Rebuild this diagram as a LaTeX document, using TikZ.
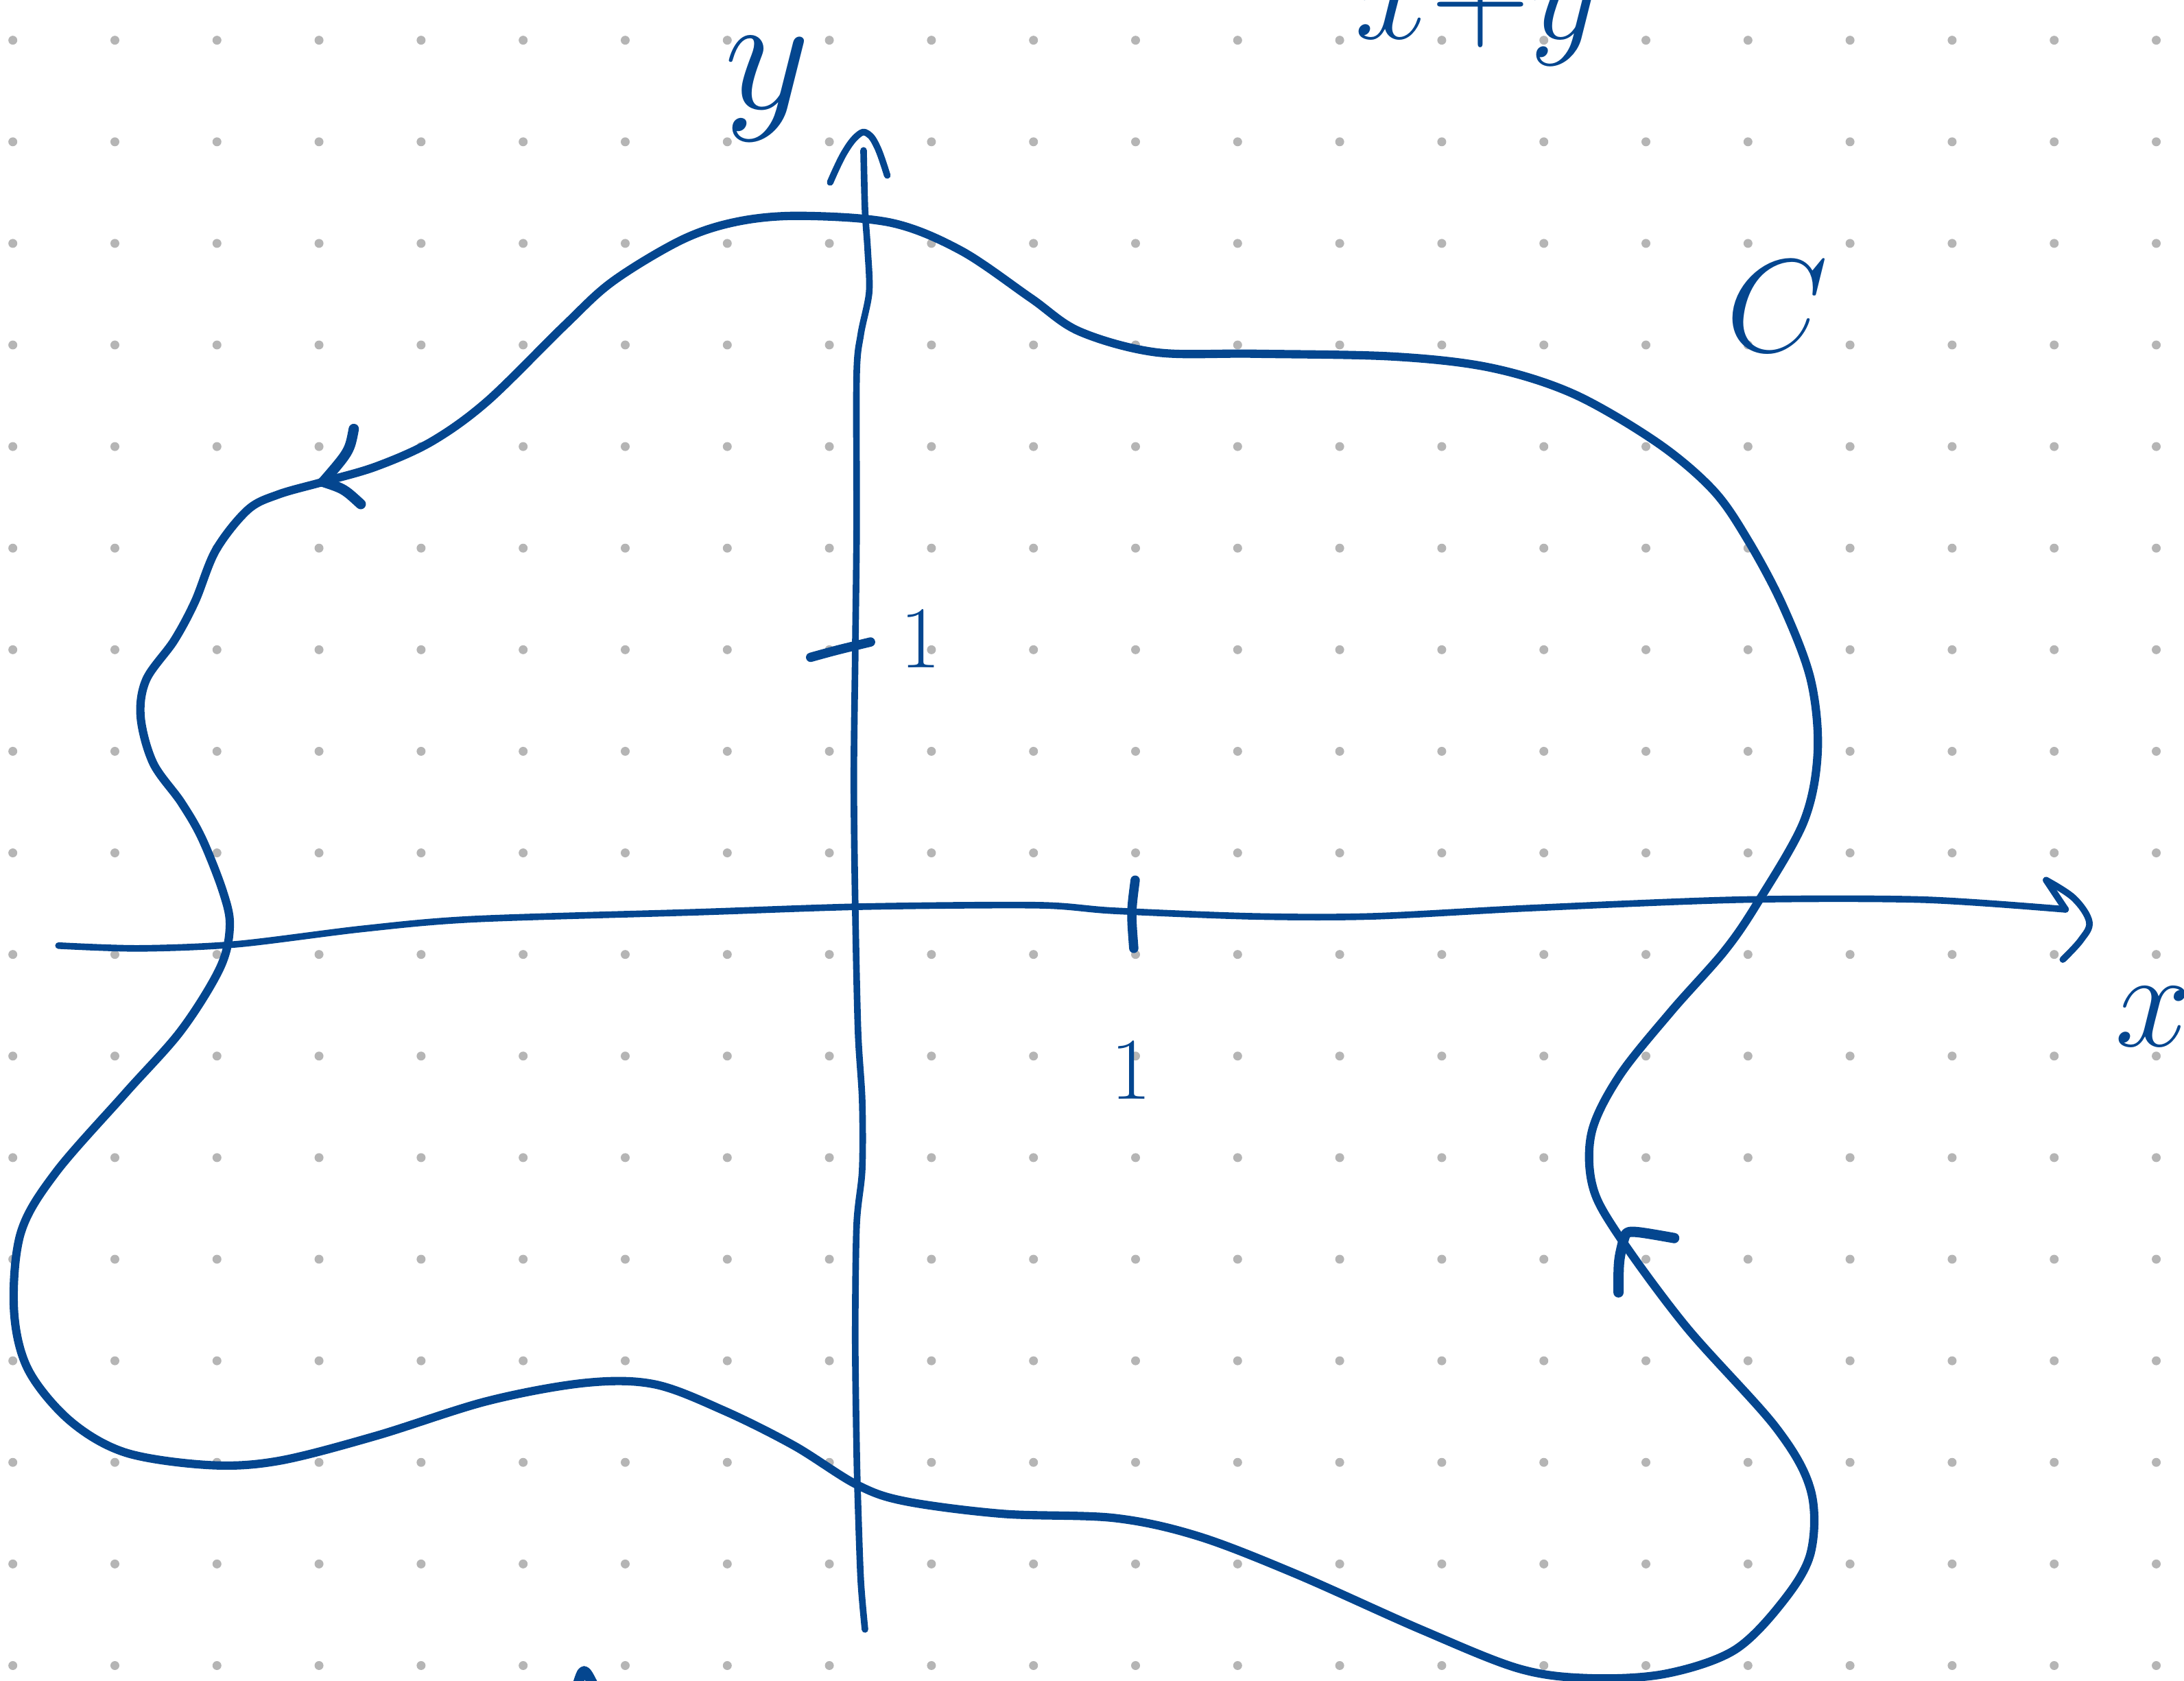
\RequirePackage{fix-cm}
\documentclass[tikz,border=0pt]{standalone}
\usepackage{xcolor}
\usepackage{tikz}
\usetikzlibrary{calc}
\definecolor{inkblue}{RGB}{4,70,143}
\tikzset{
    sketch ink/.style={
        draw=inkblue,
        line width=1.7pt,
        line cap=round,
        line join=round
    },
    sketch axis/.style={sketch ink, line width=1.35pt},
    sketch mark/.style={sketch ink, line width=2.1pt},
    sketch label/.style={text=inkblue, inner sep=0pt},
    sketch dot/.style={fill=gray!58, draw=none}
}

\begin{document}
\begin{tikzpicture}[x=0.01cm, y=-0.01cm]
    \useasboundingbox (0,0) rectangle (1568,1207);

    % dot paper
    \foreach \i in {0,...,21}
        \foreach \j in {0,...,16}
            \fill[sketch dot] ({9.2+73.28*\i},{28.9+72.94*\j}) circle[radius=0.032cm];

    \coordinate (xstart) at (42,679);
    \coordinate (xend) at (1483,653);
    \coordinate (ystart) at (621,1170);
    \coordinate (yend) at (620,108);
    \coordinate (leftmark) at (232,346);
    \coordinate (rightmark) at (1166,889);

    % axes
    \draw[sketch axis] plot[smooth, tension=0.5] coordinates {
        (xstart) (100,681) (170,678) (260,667) (340,660) (500,655) (620,651)
        (745,650) (800,654) (900,658) (985,658) (1100,652) (1250,646) (1380,646) (xend)};
    \draw[sketch axis] plot[smooth, tension=0.5] coordinates {
        (ystart) (618,1135) (616,1080) (615,1040) (614,960) (615,880) (619,840)
        (619,790) (616,740) (614,650) (613,560) (614,470) (615,380) (615,270)
        (618,240) (624,210) (623,180) (621,150) (yend)};
    \draw[sketch axis] (xend) -- (1469,632);
    \draw[sketch axis] plot[smooth, tension=0.6] coordinates {
        (1469,632) (1489,645) (1500,662) (1494,675) (1481,689)};
    \draw[sketch axis] plot[smooth, tension=0.7] coordinates {
        (596,131) (606,110) (616,97) (623,96) (630,106) (637,126)};

    % unit ticks
    \draw[sketch mark, line width=1.9pt] (815,632) .. controls (812,655) .. (814,681);
    \draw[sketch mark, line width=1.9pt] (582,472) .. controls (600,467) .. (625,461);

    % the contour
    \draw[sketch ink] plot[smooth cycle, tension=0.55] coordinates {
        (575,155) (640,160) (690,180) (740,214) (775,238) (830,253) (900,254)
        (1000,256) (1070,264) (1130,283) (1190,318) (1230,352) (1255,388)
        (1280,435) (1300,488) (1305,540) (1295,590) (1262,648) (1238,683)
        (1200,726) (1163,772) (1143,812) (1143,850) (1160,884) (1210,952)
        (1275,1025) (1300,1070) (1300,1115) (1280,1150) (1245,1185) (1195,1202)
        (1140,1205) (1090,1198) (1020,1170) (930,1130) (860,1103) (800,1090)
        (720,1087) (650,1078) (615,1066) (570,1038) (520,1013) (470,994)
        (420,993) (350,1006) (270,1031) (200,1049) (150,1052) (90,1043)
        (50,1020) (20,983) (10,940) (15,885) (40,842) (90,785) (130,740)
        (158,695) (165,665) (160,640) (145,602) (130,576) (110,548) (101,515)
        (105,488) (125,460) (140,432) (155,395) (178,366) (200,355) (232,346)
        (270,335) (310,317) (350,288) (405,234) (440,202) (490,172) (530,159)};

    % orientation marks
    \draw[sketch mark] (254,308) .. controls (251,324) .. (leftmark);
    \draw[sketch mark] (leftmark) .. controls (247,351) .. (259,362);
    \draw[sketch mark] (rightmark) .. controls (1168,883) .. (1202,889);
    \draw[sketch mark] (rightmark) .. controls (1162,905) .. (1162,928);

    % labels
    \node[sketch label, font=\fontsize{34}{36}\selectfont] (ylabel) at (551,64) {$y$};
    \node[sketch label, font=\fontsize{28}{30}\selectfont] (xlabel) at (1546,730) {$x$};
    \node[sketch label, font=\fontsize{27}{29}\selectfont] (clabel) at (1276,220) {$C$};
    \node[sketch label, font=\fontsize{18}{20}\selectfont] (yunit) at (661,459) {$1$};
    \node[sketch label, font=\fontsize{18}{20}\selectfont] (xunit) at (812,769) {$1$};
    \node[sketch label, font=\fontsize{28}{30}\selectfont, anchor=base west] (toptext) at (972,28) {$x{+}y$};

    % cut-off stroke at the bottom edge
    \draw[sketch mark] (414,1212) .. controls (419,1196) .. (427,1212);
\end{tikzpicture}
\end{document}
